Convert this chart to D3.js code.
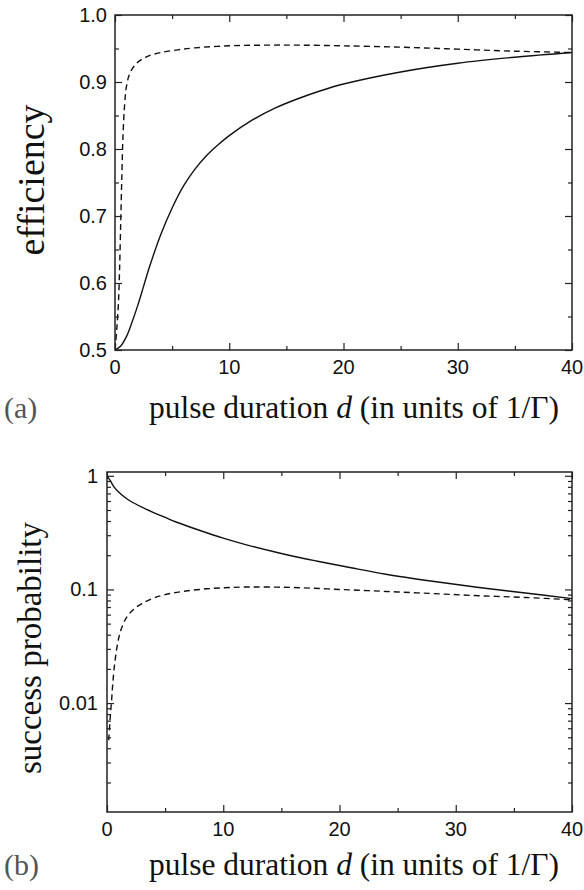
<!DOCTYPE html>
<html>
<head>
<meta charset="utf-8">
<script src="https://cdn.jsdelivr.net/npm/d3@7"></script>
<style>
  body { margin: 0; background: #fff; }
</style>
</head>
<body>
<div id="chart"></div>
<script>
// panel (a): efficiency vs pulse duration
var dA_solid   = [0, 0.5, 1, 1.5, 2, 2.5, 3, 4, 5, 6, 7, 8, 9, 10, 12, 14, 16, 18, 20, 25, 30, 35, 40];
var effA_solid = [0.5, 0.506, 0.52, 0.542, 0.567, 0.595, 0.623, 0.672, 0.712, 0.745, 0.77, 0.79, 0.806, 0.82, 0.843, 0.861, 0.875, 0.887, 0.897, 0.915, 0.928, 0.937, 0.944];
var dA_dash    = [0, 0.15, 0.3, 0.4, 0.5, 0.6, 0.7, 0.85, 1.0, 1.3, 1.9, 2.8, 4, 5.5, 7, 10, 13, 16, 20, 25, 30, 35, 40];
var effA_dash  = [0.5, 0.53, 0.57, 0.62, 0.69, 0.76, 0.82, 0.868, 0.893, 0.913, 0.928, 0.938, 0.944, 0.948, 0.951, 0.954, 0.955, 0.955, 0.954, 0.952, 0.949, 0.946, 0.944];

// panel (b): success probability vs pulse duration (log)
var dB_solid    = [0, 0.3, 0.6, 1, 1.5, 2, 3, 4, 5, 6, 8, 10, 12, 15, 18, 21, 24, 28, 32, 36, 40];
var probB_solid = [1.0, 0.9, 0.8, 0.72, 0.65, 0.6, 0.53, 0.475, 0.43, 0.39, 0.33, 0.283, 0.247, 0.207, 0.178, 0.155, 0.136, 0.118, 0.104, 0.093, 0.083];
var dB_dash     = [0.15, 0.26, 0.4, 0.5, 0.7, 1.0, 1.3, 1.7, 2.3, 3, 4, 5, 6.5, 9, 12, 16, 20, 24, 28, 32, 36, 40];
var probB_dash  = [0.0047, 0.0071, 0.0107, 0.015, 0.024, 0.037, 0.047, 0.057, 0.067, 0.075, 0.084, 0.09, 0.096, 0.102, 0.105, 0.104, 0.1, 0.096, 0.092, 0.088, 0.085, 0.081];

var xTicks = [0, 10, 20, 30, 40];
var xMinor = [5, 15, 25, 35];
var yTicksA = [0.5, 0.6, 0.7, 0.8, 0.9, 1.0];
var yMinorA = [0.55, 0.65, 0.75, 0.85, 0.95];
var yTicksB = [1, 0.1, 0.01];
var yLabelsB = ["1", "0.1", "0.01"];

var sansFont = "Liberation Sans, Arial, sans-serif";
var serifFont = "Liberation Serif, Times New Roman, serif";
var tickSize = 20;

var svg = d3.select("#chart").append("svg")
  .attr("width", 584)
  .attr("height", 890);

function drawPanel(box, y, yMajor, yMinor, yFmt, yPad, series, ylab, yLabX, yLabY, yLabSize, letter, xlabY, xTickY) {
  var x = d3.scaleLinear().domain([0, 40]).range([box.left, box.right]);

  var g = svg.append("g");

  // clip the curves to the frame
  var clipId = "clip" + letter;
  svg.append("clipPath").attr("id", clipId)
    .append("rect")
      .attr("x", box.left).attr("y", box.top)
      .attr("width", box.right - box.left).attr("height", box.bottom - box.top);

  // curves
  series.forEach(function(s) {
    var pts = s.d.map(function(d, i) { return [d, s.v[i]]; });
    var line = d3.line()
      .x(function(p) { return x(p[0]); })
      .y(function(p) { return y(p[1]); })
      .curve(d3.curveCatmullRom.alpha(0.5));
    g.append("path")
      .attr("clip-path", "url(#" + clipId + ")")
      .attr("d", line(pts))
      .attr("fill", "none")
      .attr("stroke", "#111")
      .attr("stroke-width", 1.4)
      .attr("stroke-dasharray", s.dash ? "6,4" : null);
  });

  // ticks only (inward) on all four sides
  function ticks(axis, tr) {
    return g.append("g").attr("transform", tr).call(axis);
  }
  var bot = "translate(0," + box.bottom + ")", top = "translate(0," + box.top + ")";
  var lft = "translate(" + box.left + ",0)", rgt = "translate(" + box.right + ",0)";
  ticks(d3.axisBottom(x).tickValues(xTicks).tickSizeInner(-7).tickSizeOuter(0).tickFormat(""), bot);
  ticks(d3.axisBottom(x).tickValues(xMinor).tickSizeInner(-4).tickSizeOuter(0).tickFormat(""), bot);
  ticks(d3.axisTop(x).tickValues(xTicks).tickSizeInner(-7).tickSizeOuter(0).tickFormat(""), top);
  ticks(d3.axisTop(x).tickValues(xMinor).tickSizeInner(-4).tickSizeOuter(0).tickFormat(""), top);
  ticks(d3.axisLeft(y).tickValues(yMajor).tickSizeInner(-7).tickSizeOuter(0).tickFormat(""), lft);
  ticks(d3.axisLeft(y).tickValues(yMinor).tickSizeInner(-4).tickSizeOuter(0).tickFormat(""), lft);
  ticks(d3.axisRight(y).tickValues(yMajor).tickSizeInner(-7).tickSizeOuter(0).tickFormat(""), rgt);
  ticks(d3.axisRight(y).tickValues(yMinor).tickSizeInner(-4).tickSizeOuter(0).tickFormat(""), rgt);

  g.selectAll(".domain").remove();
  g.selectAll(".tick line").attr("stroke", "#222").attr("stroke-width", 1.2);

  // tick labels
  g.append("g").selectAll("text")
    .data(xTicks)
    .enter()
    .append("text")
      .attr("x", function(d) { return x(d); })
      .attr("y", box.bottom + xTickY)
      .attr("text-anchor", "middle")
      .attr("font-family", sansFont)
      .attr("font-size", tickSize)
      .attr("fill", "#111")
      .text(function(d) { return d; });
  g.append("g").selectAll("text")
    .data(yMajor)
    .enter()
    .append("text")
      .attr("x", box.left - yPad)
      .attr("y", function(d) { return y(d); })
      .attr("dy", "0.35em")
      .attr("text-anchor", "end")
      .attr("font-family", sansFont)
      .attr("font-size", tickSize)
      .attr("fill", "#111")
      .text(yFmt);

  // frame
  g.append("rect")
    .attr("x", box.left).attr("y", box.top)
    .attr("width", box.right - box.left).attr("height", box.bottom - box.top)
    .attr("fill", "none").attr("stroke", "#222").attr("stroke-width", 1.5);

  // y title
  g.append("text")
    .attr("transform", "translate(" + yLabX + "," + yLabY + ") rotate(-90)")
    .attr("text-anchor", "middle")
    .attr("fill", "#111")
    .attr("font-family", serifFont)
    .attr("font-size", yLabSize)
    .text(ylab);

  // x title
  var xt = g.append("text")
    .attr("x", 354).attr("y", xlabY)
    .attr("text-anchor", "middle")
    .attr("fill", "#111")
    .attr("font-family", serifFont)
    .attr("font-size", 31.5);
  xt.append("tspan").text("pulse duration ");
  xt.append("tspan").attr("font-style", "italic").text("d");
  xt.append("tspan").text(" (in units of 1/\u0393)");

  // panel letter
  g.append("text")
    .attr("x", 4).attr("y", xlabY)
    .attr("fill", "#555")
    .attr("font-family", serifFont)
    .attr("font-size", 30)
    .text("(" + letter + ")");
}

// (a)
var boxA = {left: 115, right: 572, top: 15, bottom: 350};
var yA = d3.scaleLinear().domain([0.5, 1.0]).range([boxA.bottom, boxA.top]);
drawPanel(boxA, yA, yTicksA, yMinorA, d3.format(".1f"), 8,
  [{d: dA_solid, v: effA_solid, dash: false}, {d: dA_dash, v: effA_dash, dash: true}],
  "efficiency", 44, 180, 38, "a", 418, 24);

// (b)
var boxB = {left: 107, right: 572, top: 472, bottom: 812};
var yB = d3.scaleLog().domain([0.0011, 1.08]).range([boxB.bottom, boxB.top]);
var yMinorB = [];
[0.001, 0.01, 0.1].forEach(function(dec) {
  for (var k = 2; k <= 9; k++) {
    var v = dec * k;
    if (v >= 0.0011 && v <= 1.08) yMinorB.push(v);
  }
});
drawPanel(boxB, yB, yTicksB, yMinorB, function(d, i) { return yLabelsB[i]; }, 9,
  [{d: dB_solid, v: probB_solid, dash: false}, {d: dB_dash, v: probB_dash, dash: true}],
  "success probability", 41, 648, 33, "b", 875, 24);
</script>
</body>
</html>
